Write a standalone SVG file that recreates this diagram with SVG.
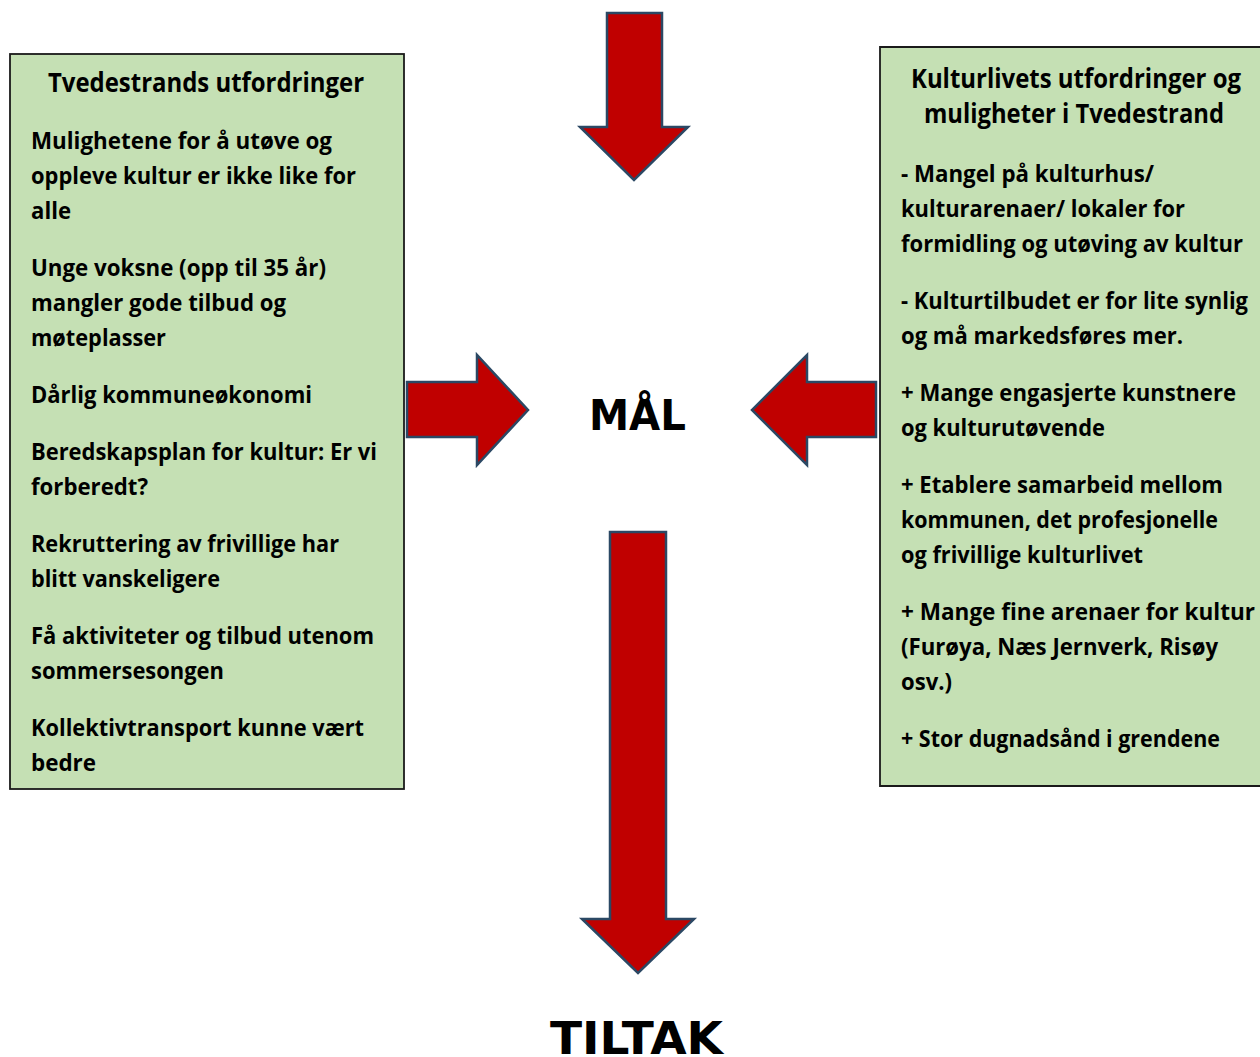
<svg xmlns="http://www.w3.org/2000/svg" width="1260" height="1057" viewBox="0 0 1260 1057">
<style>
.box{fill:#C5E0B4;stroke:#1a1a1a;stroke-width:1.8}
.fill{fill:#C5E0B4}
.edge{fill:none;stroke:#1a1a1a;stroke-width:1.8}
.t{font-family:"Open Sans",Lato,"Liberation Sans",sans-serif;font-weight:700;font-size:24px;fill:#000}
.h{font-family:"Open Sans",Lato,"Liberation Sans",sans-serif;font-weight:700;font-size:26px;fill:#000;text-anchor:middle}
.arr{fill:#C00000;stroke:#2B4864;stroke-width:2.5;stroke-linejoin:miter}
.big{font-family:"DejaVu Sans",Verdana,sans-serif;font-weight:700;fill:#000}
</style>
<rect width="1260" height="1057" fill="#fff"/>
<g id="connectors">
<polygon class="arr" points="607,13 662,13 662,127 688,127 634,180 580,127 607,127"/>
<polygon class="arr" points="407,382 477,382 477,355 528,410 477,465 477,437 407,437"/>
<polygon class="arr" points="876,382 807,382 807,355 752,410 807,465 807,437 876,437"/>
<polygon class="arr" points="610,532 666,532 666,919 694,919 638,973 582,919 610,919"/>
</g>
<g id="left-box">
<rect class="box" x="10" y="54" width="394" height="735"/>
<text class="h" x="206" y="92" textLength="316" lengthAdjust="spacingAndGlyphs">Tvedestrands utfordringer</text>
<text class="t" x="31" y="149" textLength="301" lengthAdjust="spacingAndGlyphs">Mulighetene for å utøve og</text>
<text class="t" x="31" y="184" textLength="325" lengthAdjust="spacingAndGlyphs">oppleve kultur er ikke like for</text>
<text class="t" x="31" y="219" textLength="40" lengthAdjust="spacingAndGlyphs">alle</text>
<text class="t" x="31" y="276" textLength="295" lengthAdjust="spacingAndGlyphs">Unge voksne (opp til 35 år)</text>
<text class="t" x="31" y="311" textLength="255" lengthAdjust="spacingAndGlyphs">mangler gode tilbud og</text>
<text class="t" x="31" y="346" textLength="135" lengthAdjust="spacingAndGlyphs">møteplasser</text>
<text class="t" x="31" y="403" textLength="281" lengthAdjust="spacingAndGlyphs">Dårlig kommuneøkonomi</text>
<text class="t" x="31" y="460" textLength="346" lengthAdjust="spacingAndGlyphs">Beredskapsplan for kultur: Er vi</text>
<text class="t" x="31" y="495" textLength="117" lengthAdjust="spacingAndGlyphs">forberedt?</text>
<text class="t" x="31" y="552" textLength="308" lengthAdjust="spacingAndGlyphs">Rekruttering av frivillige har</text>
<text class="t" x="31" y="587" textLength="189" lengthAdjust="spacingAndGlyphs">blitt vanskeligere</text>
<text class="t" x="31" y="644" textLength="343" lengthAdjust="spacingAndGlyphs">Få aktiviteter og tilbud utenom</text>
<text class="t" x="31" y="679" textLength="193" lengthAdjust="spacingAndGlyphs">sommersesongen</text>
<text class="t" x="31" y="736" textLength="333" lengthAdjust="spacingAndGlyphs">Kollektivtransport kunne vært</text>
<text class="t" x="31" y="771" textLength="65" lengthAdjust="spacingAndGlyphs">bedre</text>
</g>
<g id="right-box">
<rect class="fill" x="880" y="47" width="380" height="739"/>
<path class="edge" d="M1260,47 H880 V786 H1260"/>
<text class="h" x="1076" y="88" textLength="330" lengthAdjust="spacingAndGlyphs">Kulturlivets utfordringer og</text>
<text class="h" x="1074" y="123" textLength="300" lengthAdjust="spacingAndGlyphs">muligheter i Tvedestrand</text>
<text class="t" x="901" y="182" textLength="253" lengthAdjust="spacingAndGlyphs">- Mangel på kulturhus/</text>
<text class="t" x="901" y="217" textLength="284" lengthAdjust="spacingAndGlyphs">kulturarenaer/ lokaler for</text>
<text class="t" x="901" y="252" textLength="342" lengthAdjust="spacingAndGlyphs">formidling og utøving av kultur</text>
<text class="t" x="901" y="309" textLength="347" lengthAdjust="spacingAndGlyphs">- Kulturtilbudet er for lite synlig</text>
<text class="t" x="901" y="344" textLength="282" lengthAdjust="spacingAndGlyphs">og må markedsføres mer.</text>
<text class="t" x="901" y="401" textLength="335" lengthAdjust="spacingAndGlyphs">+ Mange engasjerte kunstnere</text>
<text class="t" x="901" y="436" textLength="204" lengthAdjust="spacingAndGlyphs">og kulturutøvende</text>
<text class="t" x="901" y="493" textLength="322" lengthAdjust="spacingAndGlyphs">+ Etablere samarbeid mellom</text>
<text class="t" x="901" y="528" textLength="317" lengthAdjust="spacingAndGlyphs">kommunen, det profesjonelle</text>
<text class="t" x="901" y="563" textLength="242" lengthAdjust="spacingAndGlyphs">og frivillige kulturlivet</text>
<text class="t" x="901" y="620" textLength="354" lengthAdjust="spacingAndGlyphs">+ Mange fine arenaer for kultur</text>
<text class="t" x="901" y="655" textLength="317" lengthAdjust="spacingAndGlyphs">(Furøya, Næs Jernverk, Risøy</text>
<text class="t" x="901" y="690" textLength="51" lengthAdjust="spacingAndGlyphs">osv.)</text>
<text class="t" x="901" y="747" textLength="319" lengthAdjust="spacingAndGlyphs">+ Stor dugnadsånd i grendene</text>
</g>
<g id="mal">
<text class="big" x="589" y="430" font-size="43" textLength="97" lengthAdjust="spacingAndGlyphs">MÅL</text>
</g>
<g id="tiltak">
<text class="big" x="550" y="1054" font-size="44" textLength="173" lengthAdjust="spacingAndGlyphs">TILTAK</text>
</g>
</svg>
